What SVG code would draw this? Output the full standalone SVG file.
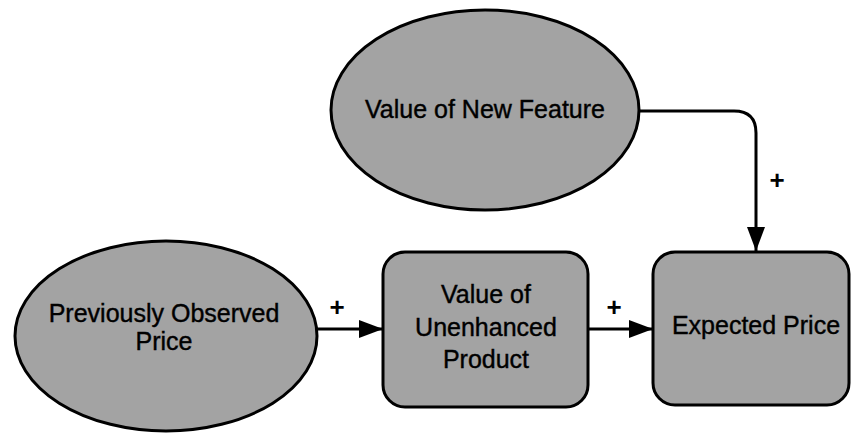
<svg xmlns="http://www.w3.org/2000/svg" width="851" height="434" viewBox="0 0 851 434">
<style>
.node{fill:#a3a3a3;stroke:#000;stroke-width:3}
.lbl{font-family:"Liberation Sans",Arial,sans-serif;font-size:25px;fill:#000;stroke:#000;stroke-width:0.4;text-anchor:middle}
.plus{font-family:"Liberation Sans",Arial,sans-serif;font-size:26px;font-weight:bold;fill:#000;text-anchor:middle}
.conn{fill:none;stroke:#000;stroke-width:3}
</style>
<defs>
<marker id="arr" markerUnits="userSpaceOnUse" markerWidth="26" markerHeight="20" refX="24" refY="9" orient="auto">
<path d="M0,0 L24,9 L0,18 z" fill="#000"/>
</marker>
</defs>
<rect width="851" height="434" fill="#fff"/>
<g id="connectors">
<path class="conn" d="M639,111 H734 Q756,111 756,133 V251" marker-end="url(#arr)"/>
<path class="conn" d="M317,329 H383" marker-end="url(#arr)"/>
<path class="conn" d="M588,329 H653" marker-end="url(#arr)"/>
<text class="plus" x="777" y="189">+</text>
<text class="plus" x="337" y="316">+</text>
<text class="plus" x="614" y="316">+</text>
</g>
<g id="value-new-feature">
<ellipse class="node" cx="485" cy="110" rx="154" ry="100"/>
<text class="lbl" x="485" y="118">Value of New Feature</text>
</g>
<g id="previously-observed-price">
<ellipse class="node" cx="166" cy="336" rx="151" ry="95"/>
<text class="lbl" x="164" y="322">Previously Observed</text>
<text class="lbl" x="164" y="350">Price</text>
</g>
<g id="value-unenhanced-product">
<rect class="node" x="383" y="252" width="205" height="155" rx="22" ry="22"/>
<text class="lbl" x="486" y="303">Value of</text>
<text class="lbl" x="486" y="336">Unenhanced</text>
<text class="lbl" x="486" y="368">Product</text>
</g>
<g id="expected-price">
<rect class="node" x="653" y="252" width="196" height="153" rx="22" ry="22"/>
<text class="lbl" x="756" y="334">Expected Price</text>
</g>
</svg>
